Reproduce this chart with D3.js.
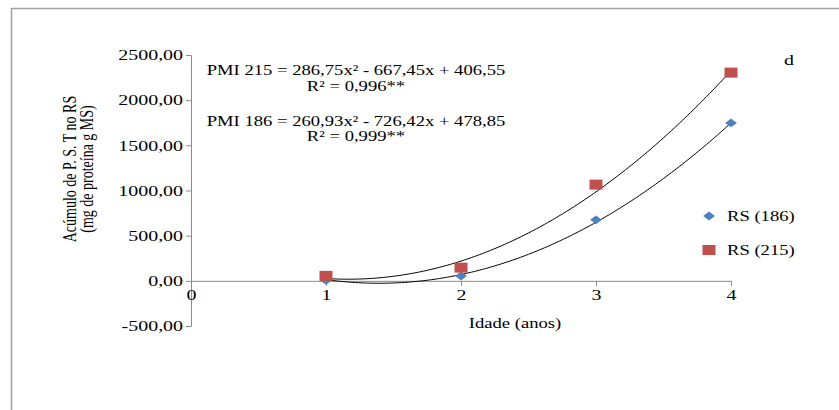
<!DOCTYPE html>
<meta charset="utf-8">
<style>
    body { margin: 0; background: #fff; }
    svg text { font-family: "Liberation Serif", "Times New Roman", serif !important; fill: #000; }
    .axis path, .axis line { stroke: #8c8c8c; }
    .trend { fill: none; stroke: #000; stroke-width: 1; }
</style>
<body>
<script src="https://cdn.jsdelivr.net/npm/d3@7"></script>
<script>

    // data
    var idade = [1, 2, 3, 4];
    var rs186 = [5, 53, 675, 1748];
    var rs215 = [55, 146, 1065, 2305];
    var xTicks = [0, 1, 2, 3, 4];
    var yTicks = [-500, 0, 500, 1000, 1500, 2000, 2500];
    // trendline coefficients (a, b, c) from the printed equations
    var coef186 = [260.93, -726.42, 478.85];
    var coef215 = [286.75, -667.45, 406.55];
    var eqLines = ["PMI 215 = 286,75x² - 667,45x + 406,55", "R² = 0,996**",
                   "PMI 186 = 260,93x² - 726,42x + 478,85", "R² = 0,999**"];
    var legendNames = ["RS (186)", "RS (215)"];

    var width = 839, height = 410;
    var sx = 1.33;   // the original picture is stretched sideways

    var svg = d3.select("body").append("svg")
            .attr("width", width)
            .attr("height", height);

    // outer frame
    svg.append("path")
            .attr("d", "M11.5," + height + "V8.5H" + width)
            .attr("fill", "none")
            .attr("stroke", "#a0a0a0")
            .attr("stroke-width", 1.5);

    var x = d3.scaleLinear().domain([0, 4]).range([191, 731]);
    var y = d3.scaleLinear().domain([-500, 2500]).range([326, 55]);

    var fmt = function(d) { return d3.format(".2f")(d).replace(".", ",").replace("−", "-"); };

    var yAxis = svg.append("g")
            .attr("class", "axis")
            .attr("font-family", null)
            .attr("transform", "translate(" + x(0) + ",0)")
            .call(d3.axisLeft(y).tickValues(yTicks).tickFormat(fmt).tickSize(5).tickSizeOuter(5));
    yAxis.attr("font-family", null);
    yAxis.selectAll("text")
            .style("font-size", "15px")
            .attr("x", -6)
            .attr("transform", "scale(" + sx + ",1)");

    var xAxis = svg.append("g")
            .attr("class", "axis")
            .attr("transform", "translate(0," + y(0) + ")")
            .call(d3.axisBottom(x).tickValues(xTicks).tickFormat(d3.format("d")).tickSize(5).tickSizeOuter(0));
    xAxis.attr("font-family", null);
    xAxis.selectAll("text")
            .style("font-size", "15px")
            .attr("y", 9)
            .attr("transform", "scale(" + sx + ",1)");
    xAxis.selectAll(".tick").filter(function(d) { return d === 0; }).select("line").remove();

    svg.append("text")
            .attr("transform", "translate(515,328) scale(" + sx + ",1)")
            .attr("text-anchor", "middle")
            .style("font-size", "14px")
            .text("Idade (anos)");

    var yTitle = svg.append("text")
            .attr("transform", "translate(76,169) rotate(-90) scale(1," + sx + ")")
            .attr("text-anchor", "middle")
            .style("font-size", "14px");
    yTitle.append("tspan").attr("x", 0).attr("dy", 0).text("Acúmulo de P. S. T no RS");
    yTitle.append("tspan").attr("x", 0).attr("dy", 13).text("(mg de proteína g MS)");

    // trendlines
    function quad(c) {
        return d3.range(1, 4.001, 0.02).map(function(t) {
            return [t, c[0] * t * t + c[1] * t + c[2]];
        });
    }
    var line = d3.line()
            .x(function(d) { return x(d[0]); })
            .y(function(d) { return y(d[1]); })
            .curve(d3.curveMonotoneX);

    svg.append("path").attr("class", "trend").attr("d", line(quad(coef215)));
    svg.append("path").attr("class", "trend").attr("d", line(quad(coef186)));

    var diamond = d3.symbol().type(d3.symbolDiamond2).size(50);

    svg.append("g").selectAll("path")
            .data(idade)
        .enter().append("path")
            .attr("d", diamond)
            .attr("transform", function(d, i) { return "translate(" + x(d) + "," + y(rs186[i]) + ") scale(" + sx + ",1)"; })
            .attr("fill", "#4f81bd");

    svg.append("g").selectAll("rect")
            .data(idade)
        .enter().append("rect")
            .attr("x", function(d) { return x(d) - 6.5; })
            .attr("y", function(d, i) { return y(rs215[i]) - 5; })
            .attr("width", 13).attr("height", 10)
            .attr("fill", "#c0504d");

    // equations
    var eqY = [75, 91, 126, 141];
    svg.append("g").selectAll("text")
            .data(eqLines)
        .enter().append("text")
            .attr("transform", function(d, i) { return "translate(356," + eqY[i] + ") scale(" + sx + ",1)"; })
            .attr("text-anchor", "middle")
            .style("font-size", "14px")
            .text(function(d) { return d; });

    svg.append("text")
            .attr("transform", "translate(784,65) scale(" + sx + ",1)")
            .style("font-size", "15px")
            .text("d");

    // legend
    var leg = svg.append("g");
    leg.append("path")
            .attr("d", diamond)
            .attr("transform", "translate(709,216) scale(" + sx + ",1)")
            .attr("fill", "#4f81bd");
    leg.append("rect")
            .attr("x", 702.5).attr("y", 245).attr("width", 13).attr("height", 10)
            .attr("fill", "#c0504d");
    leg.selectAll("text")
            .data(legendNames)
        .enter().append("text")
            .attr("transform", function(d, i) { return "translate(727," + (221 + i * 34) + ") scale(" + sx + ",1)"; })
            .style("font-size", "14px")
            .text(function(d) { return d; });

</script>
